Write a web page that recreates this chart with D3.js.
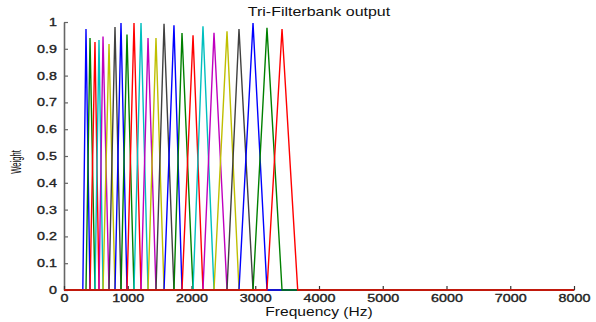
<!DOCTYPE html>
<html>
<head>
<meta charset="utf-8">
<script src="https://cdn.jsdelivr.net/npm/d3@7"></script>
<style>
  body { margin: 0; background: #fff; }
  svg { display: block; font-family: "Liberation Sans", Arial, sans-serif; }
</style>
</head>
<body>
<svg id="chart" width="596" height="322"></svg>
<script>
// filter edge frequencies (Hz): first lower edge, 24 peaks, last upper edge
const edgesHz = [295, 345, 408, 486, 549, 612, 706, 800, 894, 988, 1098, 1208, 1318,
                 1443, 1569, 1725, 1851, 2024, 2180, 2353, 2557, 2745, 2965, 3184, 3420, 3666];
// peak weight of each filter as drawn
const peakWeight = [0.974, 0.94, 0.925, 0.933, 0.946, 0.918, 0.981, 0.996, 0.953, 0.996,
                    0.996, 0.94, 0.94, 0.993, 0.988, 0.959, 0.95, 0.984, 0.96, 0.965,
                    0.974, 0.996, 0.978, 0.974];
const xTicks = [0, 1000, 2000, 3000, 4000, 5000, 6000, 7000, 8000];
const yTicks = [0, 0.1, 0.2, 0.3, 0.4, 0.5, 0.6, 0.7, 0.8, 0.9, 1];
const lineColors = ["#0000ff", "#008000", "#ff0000", "#00bfbf", "#bf00bf", "#bfbf00", "#404040"];

const svg = d3.select("#chart");
const plotLeft = 64, plotRight = 574, plotTop = 22, plotBottom = 290;
const stretch = 1.3; // text in the reference is wider than tall

let x = d3.scaleLinear().domain([0, 8000]).range([plotLeft, plotRight]);
let y = d3.scaleLinear().domain([0, 1]).range([plotBottom, plotTop]);

// y axis (ticks point inward)
const yAxis = svg.append("g")
    .attr("transform", "translate(" + plotLeft + ",0)")
    .call(d3.axisLeft(y).tickValues(yTicks).tickSize(-4).tickSizeOuter(0)
        .tickPadding(5.4).tickFormat(d3.format("")));
yAxis.select(".domain").attr("stroke", "#666").attr("stroke-width", 1.6);
yAxis.selectAll(".tick line").attr("stroke", "#666").attr("stroke-width", 1.2);

// x axis
const xAxis = svg.append("g")
    .attr("transform", "translate(0," + plotBottom + ")")
    .call(d3.axisBottom(x).tickValues(xTicks).tickSize(-4).tickSizeOuter(0)
        .tickPadding(4).tickFormat(d3.format("d")));
xAxis.select(".domain").attr("stroke", "#666");
xAxis.selectAll(".tick line").attr("stroke", "#333").attr("stroke-width", 1.2);

svg.selectAll(".tick text")
    .attr("font-size", 11)
    .attr("fill", "#222")
    .attr("stroke", "#222")
    .attr("stroke-width", 0.35)
    .attr("font-family", "'Liberation Sans', Arial, sans-serif")
    .attr("transform", "scale(" + stretch + ",1)");

// filters: each one is zero everywhere except its triangle
let line = d3.line()
    .x(d => x(d[0]))
    .y(d => y(d[1]));

let filters = peakWeight.map(function(h, i) {
  return [[0, 0], [edgesHz[i], 0], [edgesHz[i + 1], h], [edgesHz[i + 2], 0], [8000, 0]];
});

svg.append("g")
  .selectAll("path")
  .data(filters)
  .enter()
  .append("path")
    .attr("d", line)
    .attr("fill", "none")
    .attr("stroke", (d, i) => lineColors[i % lineColors.length])
    .attr("stroke-width", 1.4);

// labels
svg.append("text")
    .attr("transform", "translate(319,16) scale(" + stretch + ",1)")
    .attr("text-anchor", "middle")
    .attr("font-size", 12.3)
    .attr("fill", "#111")
    .text("Tri-Filterbank output");

svg.append("text")
    .attr("transform", "translate(319,316) scale(" + stretch + ",1)")
    .attr("text-anchor", "middle")
    .attr("font-size", 12)
    .attr("fill", "#111")
    .text("Frequency (Hz)");

svg.append("text")
    .attr("transform", "translate(21,162) rotate(-90) scale(0.64,1.15)")
    .attr("text-anchor", "middle")
    .attr("font-size", 12)
    .attr("fill", "#111")
    .text("Weight");
</script>
</body>
</html>
